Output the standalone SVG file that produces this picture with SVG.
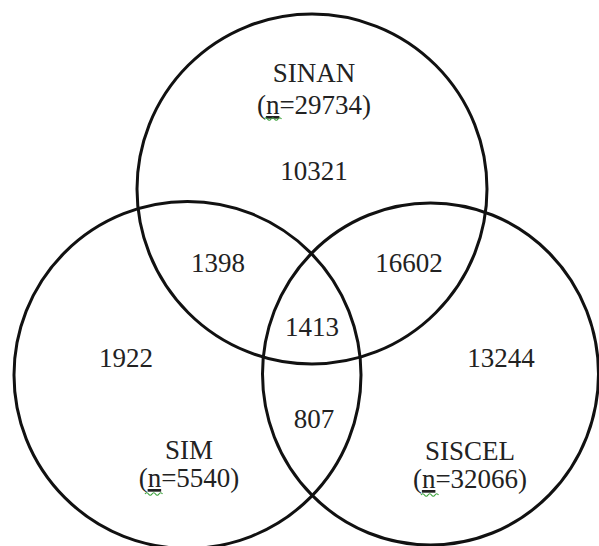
<svg xmlns="http://www.w3.org/2000/svg" xmlns:xlink="http://www.w3.org/1999/xlink" width="599" height="546" viewBox="0 0 599 546">
  <style>
    .c { fill: none; stroke: #111; stroke-width: 3; }
    .t { font-family: "Liberation Serif", "Times New Roman", serif; font-size: 27px; fill: #222; text-anchor: middle; }
    .sq { fill: none; stroke: #3aa23a; stroke-width: 1.2; }
  </style>
  <defs>
    <path id="squiggle" d="M0,0 q1.75,-2.5 3.5,0 t3.5,0 t3.5,0 t3.5,0 t3.5,0"/>
  </defs>
  <rect width="599" height="546" fill="#fff"/>
  <g id="sinan">
    <circle class="c" cx="312" cy="189" r="175"/>
    <text class="t" x="314" y="82">SINAN</text>
    <text class="t" x="314" y="114">(<tspan text-decoration="underline">n</tspan>=29734)</text>
    <use class="sq" xlink:href="#squiggle" x="264" y="119"/>
  </g>
  <g id="sim">
    <circle class="c" cx="187.5" cy="375" r="173.5"/>
    <text class="t" x="189" y="459">SIM</text>
    <text class="t" x="189" y="487">(<tspan text-decoration="underline">n</tspan>=5540)</text>
    <use class="sq" xlink:href="#squiggle" x="145" y="494"/>
  </g>
  <g id="siscel">
    <ellipse class="c" cx="430.5" cy="374" rx="168" ry="171"/>
    <text class="t" x="470" y="460">SISCEL</text>
    <text class="t" x="470" y="488">(<tspan text-decoration="underline">n</tspan>=32066)</text>
    <use class="sq" xlink:href="#squiggle" x="421" y="495"/>
  </g>
  <g id="regions">
    <text class="t" x="314" y="180">10321</text>
    <text class="t" x="218" y="272">1398</text>
    <text class="t" x="409" y="272">16602</text>
    <text class="t" x="312" y="336">1413</text>
    <text class="t" x="126" y="367">1922</text>
    <text class="t" x="501" y="367">13244</text>
    <text class="t" x="314" y="428">807</text>
  </g>
  <g id="connectors"></g>
</svg>
